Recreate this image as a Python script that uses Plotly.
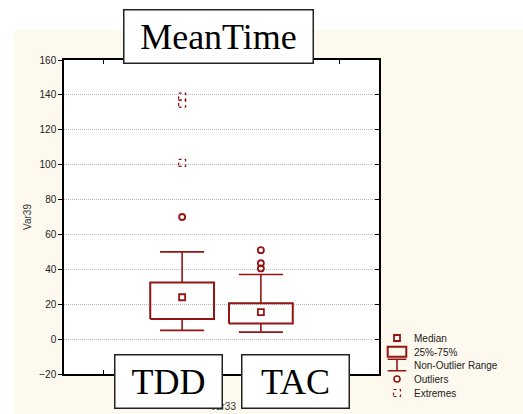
import plotly.graph_objects as go

# Summary statistics per group
groups = ["TDD", "TAC"]
medians = [24.0, 15.5]
q1 = [11.5, 9.0]
q3 = [32.5, 20.5]
whisker_low = [5.0, 4.0]
whisker_high = [50.0, 37.0]
outliers = {"TDD": [70.0], "TAC": [51.0, 43.5, 40.5]}
extremes = {"TDD": [139.0, 135.0, 101.0], "TAC": []}

y_ticks = [-20, 0, 20, 40, 60, 80, 100, 120, 140, 160]

RED = "#941414"
CREAM = "#fdf9ee"
BOX_HALF = 0.405
CAP_HALF = 0.28

# plot-area geometry in pixels, used to convert to paper fractions
L, R, T, B = 64, 144, 60, 40
W, H = 523, 414
PW, PH = W - L - R, H - T - B


def px(x):
    return (x - L) / PW


def py(y):
    return (H - B - y) / PH


fig = go.Figure()

for i, g in enumerate(groups):
    pos = i + 1
    # interquartile box
    fig.add_trace(go.Scatter(
        x=[pos - BOX_HALF, pos + BOX_HALF, pos + BOX_HALF, pos - BOX_HALF, pos - BOX_HALF],
        y=[q1[i], q1[i], q3[i], q3[i], q1[i]],
        mode="lines", line=dict(color=RED, width=2), hoverinfo="skip"))
    # whiskers with caps
    fig.add_trace(go.Scatter(
        x=[pos, pos, None, pos - CAP_HALF, pos + CAP_HALF, None,
           pos, pos, None, pos - CAP_HALF, pos + CAP_HALF],
        y=[q3[i], whisker_high[i], None, whisker_high[i], whisker_high[i], None,
           q1[i], whisker_low[i], None, whisker_low[i], whisker_low[i]],
        mode="lines", line=dict(color=RED, width=1.6), hoverinfo="skip"))
    # median marker
    fig.add_trace(go.Scatter(
        x=[pos], y=[medians[i]], mode="markers",
        marker=dict(symbol="square-open", size=6, color=RED, line=dict(width=1.8))))
    # outliers
    if outliers[g]:
        fig.add_trace(go.Scatter(
            x=[pos] * len(outliers[g]), y=outliers[g], mode="markers",
            marker=dict(symbol="circle-open", size=6, color=RED, line=dict(width=1.8))))
    # extremes as dotted squares anchored at the data values
    for v in extremes[g]:
        fig.add_shape(type="rect", xref="x", yref="y",
                      xsizemode="pixel", ysizemode="pixel",
                      xanchor=pos, yanchor=v, x0=-3.5, x1=3.5, y0=-3.5, y1=3.5,
                      line=dict(color=RED, width=1.2, dash="dot"), layer="above")

# white margins around the cream background
fig.add_shape(type="rect", xref="paper", yref="paper", x0=-0.5, x1=1.8,
              y0=py(30), y1=1.5, fillcolor="white", line_width=0, layer="below")
fig.add_shape(type="rect", xref="paper", yref="paper", x0=-0.5, x1=px(14),
              y0=-0.5, y1=1.5, fillcolor="white", line_width=0, layer="below")

# legend glyphs
lx = px(397)
fig.add_shape(type="rect", xref="paper", yref="paper", xsizemode="pixel", ysizemode="pixel",
              xanchor=lx, yanchor=py(338), x0=-3, x1=3, y0=-3, y1=3,
              line=dict(color=RED, width=1.8))
fig.add_shape(type="rect", xref="paper", yref="paper", xsizemode="pixel", ysizemode="pixel",
              xanchor=lx, yanchor=py(351.7), x0=-9.3, x1=9.3, y0=-5, y1=5,
              line=dict(color=RED, width=2))
fig.add_shape(type="path", xref="paper", yref="paper", xsizemode="pixel", ysizemode="pixel",
              xanchor=lx, yanchor=py(365),
              path="M-9.3,5.7 L9.3,5.7 M0,5.7 L0,-5.7 M-9.3,-5.7 L9.3,-5.7",
              line=dict(color=RED, width=1.6))
fig.add_shape(type="circle", xref="paper", yref="paper", xsizemode="pixel", ysizemode="pixel",
              xanchor=lx, yanchor=py(379), x0=-3, x1=3, y0=-3, y1=3,
              line=dict(color=RED, width=1.6))
fig.add_shape(type="rect", xref="paper", yref="paper", xsizemode="pixel", ysizemode="pixel",
              xanchor=lx, yanchor=py(393), x0=-3.5, x1=3.5, y0=-3.5, y1=3.5,
              line=dict(color=RED, width=1.2, dash="dot"))

legend_labels = ["Median", "25%-75%", "Non-Outlier Range", "Outliers", "Extremes"]
legend_y = [338, 352, 365, 379, 393]
for lab, yy in zip(legend_labels, legend_y):
    fig.add_annotation(x=px(412), y=py(yy), xref="paper", yref="paper",
                       text=lab, showarrow=False, xanchor="left", yanchor="middle",
                       font=dict(family="Liberation Sans, Arial", size=10, color="#222"))

# axis titles
fig.add_annotation(x=px(27), y=py(217), xref="paper", yref="paper", text="Var39",
                   textangle=-90, showarrow=False, xanchor="center", yanchor="middle",
                   font=dict(family="Liberation Sans, Arial", size=10, color="#333"))
fig.add_annotation(x=px(223), y=py(406), xref="paper", yref="paper", text="Var33",
                   showarrow=False, xanchor="center", yanchor="middle",
                   font=dict(family="Liberation Sans, Arial", size=10, color="#333"))

# boxed labels: title and group names
serif = dict(family="Liberation Serif, Times New Roman", size=36, color="black")
fig.add_annotation(x=px(218.5), y=py(36.5), xref="paper", yref="paper", text="MeanTime",
                   showarrow=False, xanchor="center", yanchor="middle",
                   width=188, height=52, bgcolor="white",
                   bordercolor="#222", borderwidth=1.5, borderpad=0, font=serif)
for g, cx in zip(groups, [168.5, 295.5]):
    fig.add_annotation(x=px(cx), y=py(381.5), xref="paper", yref="paper", text=g,
                       showarrow=False, xanchor="center", yanchor="middle",
                       width=106, height=52, bgcolor="white",
                       bordercolor="#222", borderwidth=1.5, borderpad=0, font=serif)

tick_font = dict(family="Liberation Sans, Arial", size=10, color="#222")
fig.update_layout(
    width=W, height=H,
    margin=dict(l=L, r=R, t=T, b=B),
    paper_bgcolor=CREAM, plot_bgcolor="white",
    showlegend=False,
    xaxis=dict(range=[-0.5, 3.5], tickvals=[0, 3], showticklabels=False,
               ticks="inside", ticklen=4, tickcolor="black", showgrid=False,
               zeroline=False, showline=True, linecolor="black", linewidth=1.5,
               mirror="ticks", fixedrange=True),
    yaxis=dict(range=[-20, 160], tickvals=y_ticks, ticks="outside", ticklen=4,
               tickcolor="black", tickfont=tick_font, showgrid=True,
               gridcolor="#b8b8b8", griddash="1px,1px", gridwidth=1, zeroline=False,
               showline=True, linecolor="black", linewidth=1.5, mirror=True,
               fixedrange=True),
    yaxis2=dict(range=[-20, 160], tickvals=y_ticks, overlaying="y", side="right",
                ticks="inside", ticklen=4, tickcolor="black", showticklabels=False,
                showgrid=False, zeroline=False, fixedrange=True),
)
# dummy trace so the right-hand tick axis is drawn
fig.add_trace(go.Scatter(x=[None], y=[None], yaxis="y2", hoverinfo="skip"))

fig.write_html("out.html")
